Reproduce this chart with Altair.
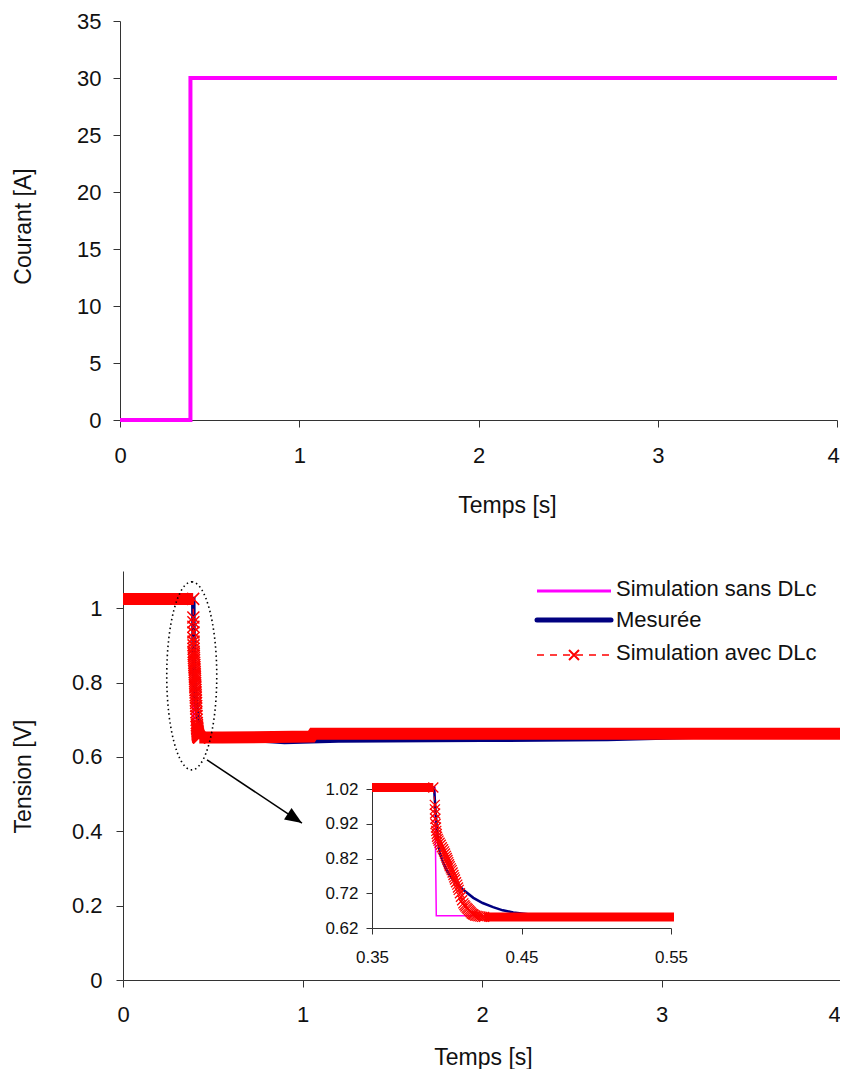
import altair as alt
import pandas as pd

# ---------------- data: top chart (current step) ----------------
cur_t = [0, 0.393, 0.393, 4]
cur_i = [0, 0, 30, 30]

# ---------------- data: bottom chart (voltage) ----------------
series_names = ["Simulation sans DLc", "Mesurée", "Simulation avec DLc"]

sans_t = [0, 0.35, 0.392, 0.393, 0.552, 4]
sans_v = [1.025, 1.025, 1.025, 0.655, 0.655, 0.655]

mes_t = [0, 0.35, 0.3915, 0.3925, 0.3935, 0.3945, 0.3955, 0.3975, 0.400, 0.403,
         0.4067, 0.411, 0.4178, 0.424, 0.431, 0.4375, 0.4445, 0.4557, 0.47, 0.5,
         0.552, 0.6, 0.9, 1.2, 2.0, 2.7, 3.5, 4]
mes_v = [1.025, 1.025, 1.025, 0.96, 0.90, 0.86, 0.835, 0.81, 0.787, 0.766,
         0.749, 0.73, 0.707, 0.692, 0.68, 0.671, 0.665, 0.659, 0.656, 0.654,
         0.652, 0.65, 0.64, 0.644, 0.646, 0.648, 0.658, 0.664]

avec_t = [0, 0.35, 0.391, 0.392, 0.3921, 0.3922, 0.3924, 0.3925, 0.3928, 0.393,
          0.3933, 0.3935, 0.394, 0.3945, 0.3952, 0.396, 0.3967, 0.3975, 0.3982, 0.3988,
          0.3994, 0.400, 0.4005, 0.401, 0.4015, 0.402, 0.4027, 0.4033, 0.4039, 0.4045,
          0.405, 0.4055, 0.4062, 0.407, 0.4075, 0.408, 0.4088, 0.4095, 0.4103, 0.4111,
          0.4118, 0.4125, 0.4133, 0.414, 0.4148, 0.4155, 0.4161, 0.4167, 0.4174, 0.418,
          0.419, 0.420, 0.4212, 0.4225, 0.4237, 0.425, 0.552, 1.05, 1.06, 4]
avec_v = [1.025, 1.025, 1.025, 0.975, 0.962, 0.95, 0.935, 0.92, 0.91, 0.90,
          0.891, 0.883, 0.877, 0.872, 0.866, 0.86, 0.853, 0.847, 0.841, 0.835,
          0.828, 0.822, 0.816, 0.81, 0.804, 0.798, 0.792, 0.787, 0.78, 0.773,
          0.766, 0.76, 0.752, 0.745, 0.737, 0.73, 0.72, 0.71, 0.70, 0.691,
          0.686, 0.682, 0.678, 0.675, 0.671, 0.668, 0.665, 0.662, 0.66, 0.658,
          0.656, 0.655, 0.654, 0.653, 0.652, 0.652, 0.652, 0.655, 0.662, 0.662]

# annotation anchors (data units of the main voltage chart)
ellipse_t = [0.383]
ellipse_v = [0.818]
arrow_t = [0.468]
arrow_v = [0.592]
arrow_t2 = [0.997]
arrow_v2 = [0.422]

# tick values
top_x_ticks = [0, 1, 2, 3, 4]
top_y_ticks = [0, 5, 10, 15, 20, 25, 30, 35]
bot_y_ticks = [0, 0.2, 0.4, 0.6, 0.8, 1.0]
inset_x_ticks = [0.35, 0.45, 0.55]
inset_y_ticks = [0.62, 0.72, 0.82, 0.92, 1.02]

# ---------------- layout (pixels inside the view) ----------------
W, H = 832, 1061
TOP_X = [112, 829]
TOP_Y = [412, 13]
BOT_X = [115, 833]
BOT_Y = [972, 563]
IN_X = [364, 663]
IN_Y = [920, 781.3]

MAGENTA = "#FF00FF"
NAVY = "#000080"
RED = "#FF0000"
AXC = "#333333"
TXT = "#111111"
XSHAPE = "M -1 -1 L 1 1 M -1 1 L 1 -1"
ELLIPSE = ("M 0 -1 C 0.147 -1 0.266 -0.552 0.266 0 C 0.266 0.552 0.147 1 0 1 "
           "C -0.147 1 -0.266 0.552 -0.266 0 C -0.266 -0.552 -0.147 -1 0 -1 Z")
HEAD = "M 0 0 L -2 -0.8 L -2 0.8 Z"


def df(t, v):
    return pd.DataFrame({"t": t, "v": v, "k": list(range(len(t)))})


def last_label_shift(px):
    # keep the last tick label inside the page edge
    return {"condition": {"test": "datum.value == 4", "value": px}, "value": 0}


cur_df = df(cur_t, cur_i)
sans_df = df(sans_t, sans_v)
mes_df = df(mes_t, mes_v)
avec_df = df(avec_t, avec_v)

big_axis = dict(labelFontSize=22, titleFontSize=23, tickSize=7, labelFlush=False,
                titleFontWeight="normal", titleBaseline="alphabetic", titleAlign="center")

# ---------------- top chart ----------------
xt = alt.X("t:Q", scale=alt.Scale(domain=[0, 4], range=TOP_X, nice=False, zero=False),
           axis=alt.Axis(orient="bottom", offset=TOP_Y[0] - H, values=top_x_ticks,
                         title="Temps [s]", labelPadding=18, labelOffset=last_label_shift(-4),
                         titleX=499, titleY=92, titleAngle=0, **big_axis))
yt = alt.Y("v:Q", scale=alt.Scale(domain=[0, 35], range=TOP_Y, nice=False, zero=False),
           axis=alt.Axis(orient="left", offset=-TOP_X[0], values=top_y_ticks,
                         title="Courant [A]", labelPadding=12,
                         titleX=22 - TOP_X[0], titleY=218, titleAngle=-90, **big_axis))
top = alt.Chart(cur_df).mark_line(color=MAGENTA, strokeWidth=4, strokeJoin="miter").encode(
    x=xt, y=yt, order="k:Q")

# ---------------- bottom chart: main ----------------
xm = alt.X("t:Q", scale=alt.Scale(domain=[0, 4], range=BOT_X, nice=False, zero=False),
           axis=alt.Axis(orient="bottom", offset=BOT_Y[0] - H, values=top_x_ticks,
                         title="Temps [s]", labelPadding=17, labelOffset=last_label_shift(-7),
                         titleX=475, titleY=84, titleAngle=0, **big_axis))
ym = alt.Y("v:Q", scale=alt.Scale(domain=[0, 1.1], range=BOT_Y, nice=False, zero=False),
           axis=alt.Axis(orient="left", offset=-BOT_X[0], values=bot_y_ticks, format="~g",
                         title="Tension [V]", labelPadding=14,
                         titleX=22 - BOT_X[0], titleY=768, titleAngle=-90, **big_axis))

seg_expr = "datum.t <= 0.391 ? 'a' : (datum.t >= 0.425 ? 'b' : 'm')"
trans_filter = "datum.t > 0.3905 && datum.t < 0.4255"

m_sans = alt.Chart(sans_df).mark_line(color=MAGENTA, strokeWidth=2.5).encode(x=xm, y=ym, order="k:Q")
m_mes = alt.Chart(mes_df).mark_line(color=NAVY, strokeWidth=4.5).encode(x=xm, y=ym, order="k:Q")
m_avec_dash = alt.Chart(avec_df).mark_line(color=RED, strokeWidth=1.5, strokeDash=[6, 4]).encode(
    x=xm, y=ym, order="k:Q")
m_avec_band = alt.Chart(avec_df).transform_calculate(seg=seg_expr).transform_filter(
    "datum.seg != 'm'").mark_line(color=RED, strokeWidth=12, strokeCap="butt").encode(
    x=xm, y=ym, detail="seg:N", order="k:Q")
m_avec_pts = alt.Chart(avec_df).transform_filter(trans_filter).mark_point(
    shape=XSHAPE, filled=False, color=RED, strokeWidth=1.5, size=144, opacity=1).encode(x=xm, y=ym)

ell = alt.Chart(pd.DataFrame({"t": ellipse_t, "v": ellipse_v})).mark_point(
    shape=ELLIPSE, filled=False, color="black", strokeWidth=1.6, strokeDash=[1.5, 3],
    size=35344, opacity=1).encode(x=xm, y=ym)
arr_df = pd.DataFrame({"t": arrow_t, "v": arrow_v, "t2": arrow_t2, "v2": arrow_v2})
arr = alt.Chart(arr_df).mark_rule(color="black", strokeWidth=1.5).encode(
    x=xm, y=ym, x2="t2:Q", y2="v2:Q")
head = alt.Chart(pd.DataFrame({"t": arrow_t2, "v": arrow_v2})).mark_point(
    shape=HEAD, filled=True, color="black", size=289, angle=33.5, opacity=1).encode(x=xm, y=ym)

# manual legend (pixel positions in the view)
one = pd.DataFrame({"k": [0]})
leg_x0, leg_x1, leg_tx = 529, 603, 608
leg_line_y = [583, 612, 647]
leg_text_y = [588, 619, 652]
lg = [
    alt.Chart(one).mark_rule(color=MAGENTA, strokeWidth=3).encode(
        x=alt.value(leg_x0), x2=alt.value(leg_x1), y=alt.value(leg_line_y[0])),
    alt.Chart(one).mark_rule(color=NAVY, strokeWidth=5, strokeCap="round").encode(
        x=alt.value(leg_x0), x2=alt.value(leg_x1), y=alt.value(leg_line_y[1])),
    alt.Chart(one).mark_rule(color=RED, strokeWidth=1.5, strokeDash=[7, 6]).encode(
        x=alt.value(leg_x0), x2=alt.value(leg_x1), y=alt.value(leg_line_y[2])),
    alt.Chart(one).mark_point(shape=XSHAPE, filled=False, color=RED, strokeWidth=2,
                              size=100, opacity=1).encode(
        x=alt.value((leg_x0 + leg_x1) / 2), y=alt.value(leg_line_y[2])),
]
for i, name in enumerate(series_names):
    lg.append(alt.Chart(pd.DataFrame({"label": [name]})).mark_text(
        align="left", baseline="alphabetic", fontSize=22, color=TXT).encode(
        x=alt.value(leg_tx), y=alt.value(leg_text_y[i]), text="label:N"))

main = alt.layer(m_sans, m_mes, m_avec_dash, m_avec_band, m_avec_pts, ell, arr, head, *lg)

# ---------------- bottom chart: inset ----------------
xi = alt.X("t:Q", scale=alt.Scale(domain=[0.35, 0.55], range=IN_X, nice=False, zero=False),
           axis=alt.Axis(orient="bottom", offset=IN_Y[0] - H, values=inset_x_ticks, format=".2f",
                         title=None, labelFontSize=17, tickSize=6, labelPadding=15,
                         labelFlush=False))
yi = alt.Y("v:Q", scale=alt.Scale(domain=[0.62, 1.02], range=IN_Y, nice=False, zero=False),
           axis=alt.Axis(orient="left", offset=-IN_X[0], values=inset_y_ticks, format=".2f",
                         title=None, labelFontSize=17, tickSize=6, labelPadding=8,
                         labelFlush=False))
in_filter = "datum.t >= 0.35 && datum.t <= 0.552"

i_sans = alt.Chart(sans_df).transform_filter(in_filter).mark_line(
    color=MAGENTA, strokeWidth=1.5).encode(x=xi, y=yi, order="k:Q")
i_mes = alt.Chart(mes_df).transform_filter(in_filter).mark_line(
    color=NAVY, strokeWidth=2.5).encode(x=xi, y=yi, order="k:Q")
i_avec_dash = alt.Chart(avec_df).transform_filter(in_filter).mark_line(
    color=RED, strokeWidth=1, strokeDash=[4, 3]).encode(x=xi, y=yi, order="k:Q")
i_avec_band = alt.Chart(avec_df).transform_filter(in_filter).transform_calculate(
    seg=seg_expr).transform_filter("datum.seg != 'm'").mark_line(
    color=RED, strokeWidth=9, strokeCap="butt").encode(x=xi, y=yi, detail="seg:N", order="k:Q")
i_avec_pts = alt.Chart(avec_df).transform_filter(trans_filter).mark_point(
    shape=XSHAPE, filled=False, color=RED, strokeWidth=1.3, size=100, opacity=1).encode(x=xi, y=yi)

inset = alt.layer(i_sans, i_mes, i_avec_dash, i_avec_band, i_avec_pts)

chart = alt.layer(top, main, inset).resolve_scale(
    x="independent", y="independent"
).properties(
    width=W, height=H, padding=0,
    autosize=alt.AutoSizeParams(type="none"),
).configure(
    font="Liberation Sans",
).configure_axis(
    grid=False, domainColor=AXC, tickColor=AXC, labelColor=TXT, titleColor=TXT,
    labelFont="Liberation Sans", titleFont="Liberation Sans",
).configure_view(strokeWidth=0)

chart.save("out.html", embed_options={"renderer": "svg", "actions": False})
